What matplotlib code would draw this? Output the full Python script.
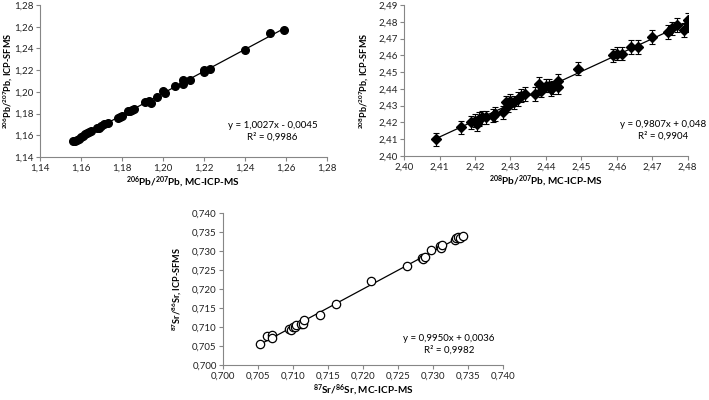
import numpy as np
import matplotlib
matplotlib.use("Agg")
import matplotlib.pyplot as plt
from matplotlib.ticker import FuncFormatter

plt.rcParams['font.family'] = ['Lato', 'DejaVu Sans']
plt.rcParams['mathtext.default'] = 'regular'

# ── data ──────────────────────────────────────────────────────────────────────

pb206_mc = [1.156, 1.157, 1.158, 1.159, 1.160, 1.161, 1.162, 1.163, 1.164, 1.165,
            1.168, 1.169, 1.170, 1.171, 1.173, 1.178, 1.179, 1.180, 1.183, 1.184,
            1.185, 1.186, 1.191, 1.193, 1.194, 1.197, 1.200, 1.201, 1.206, 1.210,
            1.210, 1.213, 1.220, 1.220, 1.223, 1.240, 1.252, 1.259]
pb206_sf = [1.155, 1.155, 1.156, 1.157, 1.158, 1.159, 1.161, 1.162, 1.163, 1.164,
            1.167, 1.167, 1.169, 1.170, 1.171, 1.176, 1.177, 1.178, 1.182, 1.182,
            1.183, 1.184, 1.191, 1.192, 1.190, 1.195, 1.201, 1.199, 1.205, 1.211,
            1.207, 1.211, 1.218, 1.220, 1.221, 1.239, 1.254, 1.257]

pb208_mc = [2.409, 2.416, 2.419, 2.420, 2.421, 2.4205, 2.422, 2.423, 2.425, 2.4255,
            2.428, 2.4288, 2.4293, 2.430, 2.431, 2.432, 2.433, 2.434, 2.437, 2.438,
            2.4385, 2.440, 2.441, 2.4413, 2.442, 2.4435, 2.4433, 2.449, 2.459, 2.460,
            2.4615, 2.464, 2.466, 2.470, 2.4745, 2.4755, 2.477, 2.479, 2.480, 2.4803,
            2.4805]
pb208_sf = [2.410, 2.417, 2.420, 2.421, 2.422, 2.419, 2.423, 2.423, 2.424, 2.425,
            2.426, 2.432, 2.430, 2.433, 2.432, 2.434, 2.436, 2.437, 2.437, 2.443,
            2.439, 2.442, 2.442, 2.440, 2.441, 2.445, 2.441, 2.452, 2.460, 2.461,
            2.461, 2.465, 2.465, 2.471, 2.474, 2.476, 2.478, 2.475, 2.481, 2.479,
            2.478]
pb208_err = 0.004

sr_mc = [0.7053, 0.7063, 0.7070, 0.7070, 0.7094, 0.7097, 0.7100, 0.7103, 0.7104, 0.7112,
         0.7114, 0.7116, 0.7138, 0.7161, 0.7212, 0.7263, 0.7284, 0.7285, 0.7289, 0.7297,
         0.7310, 0.7311, 0.7313, 0.7331, 0.7333, 0.7335, 0.7338, 0.7343]
sr_sf = [0.7055, 0.7075, 0.7080, 0.7070, 0.7094, 0.7093, 0.7100, 0.7100, 0.7106, 0.7108,
         0.7109, 0.7118, 0.7131, 0.7160, 0.7221, 0.7260, 0.7281, 0.7278, 0.7284, 0.7303,
         0.7312, 0.7307, 0.7315, 0.7330, 0.7335, 0.7336, 0.7334, 0.7340]

eq_206 = "y = 1,0027x - 0,0045\nR² = 0,9986"
eq_208 = "y = 0,9807x + 0,048\nR² = 0,9904"
eq_sr = "y = 0,9950x + 0,0036\nR² = 0,9982"

# ── helpers ───────────────────────────────────────────────────────────────────

def comma_fmt(decimals):
    return FuncFormatter(lambda v, pos: f"{v:.{decimals}f}".replace(".", ","))

def style_axes(ax, lim, step, decimals, xlabel, ylabel, ylab_x):
    ticks = np.arange(lim[0], lim[1] + step / 2, step)
    ax.set_xlim(lim)
    ax.set_ylim(lim)
    ax.set_xticks(ticks)
    ax.set_yticks(ticks)
    ax.xaxis.set_major_formatter(comma_fmt(decimals))
    ax.yaxis.set_major_formatter(comma_fmt(decimals))
    for s in ["top", "right"]:
        ax.spines[s].set_visible(False)
    for s in ["left", "bottom"]:
        ax.spines[s].set_color("#868686")
        ax.spines[s].set_linewidth(0.8)
    ax.tick_params(direction="out", length=3, width=0.8, color="#868686",
                   labelsize=7, pad=1.5, labelcolor="#222222")
    ax.set_xlabel(xlabel, fontsize=7.2, fontweight="bold", labelpad=2)
    ax.set_ylabel(ylabel, fontsize=6.6, fontweight="bold")
    # label sits at a fixed spot, left of the tick labels, like the original
    ax.yaxis.set_label_coords(ylab_x, 0.5)

def trend(ax, x, y):
    k, b = np.polyfit(x, y, 1)
    xs = np.array([min(x), max(x)])
    ax.plot(xs, k * xs + b, color="black", lw=0.9, zorder=1)

fig = plt.figure(figsize=(7.09, 4.0), dpi=100)

# ── 206Pb/207Pb ───────────────────────────────────────────────────────────────
ax1 = fig.add_axes([0.0564, 0.6075, 0.4048, 0.38])
trend(ax1, pb206_mc, pb206_sf)
ax1.plot(pb206_mc, pb206_sf, "o", color="black", ms=5.5, zorder=2)
style_axes(ax1, (1.14, 1.28), 0.02, 2,
           r"$^{206}$Pb/$^{207}$Pb, MC-ICP-MS", r"$^{206}$Pb/$^{207}$Pb, ICP-SFMS",
           -0.088)
ax1.text(0.81, 0.17, eq_206, transform=ax1.transAxes, ha="center", va="center",
         fontsize=7, linespacing=1.35)

# ── 208Pb/207Pb ───────────────────────────────────────────────────────────────
ax2 = fig.add_axes([0.570, 0.61, 0.400, 0.3775])
trend(ax2, pb208_mc, pb208_sf)
ax2.errorbar(pb208_mc, pb208_sf, yerr=pb208_err, fmt="D", color="black", ms=5,
             ecolor="black", elinewidth=0.8, capsize=2.5, capthick=0.8, zorder=2)
style_axes(ax2, (2.40, 2.49), 0.01, 2,
           r"$^{208}$Pb/$^{207}$Pb, MC-ICP-MS", r"$^{208}$Pb/$^{207}$Pb, ICP-SFMS",
           -0.118)
ax2.set_xlim(2.40, 2.48)
ax2.set_xticks(np.arange(2.40, 2.485, 0.01))
ax2.text(0.915, 0.17, eq_208, transform=ax2.transAxes, ha="center", va="center",
         fontsize=7, linespacing=1.35)

# ── 87Sr/86Sr ─────────────────────────────────────────────────────────────────
ax3 = fig.add_axes([0.3145, 0.0875, 0.395, 0.38])
trend(ax3, sr_mc, sr_sf)
ax3.plot(sr_mc, sr_sf, "o", mfc="white", mec="black", mew=0.9, ms=6, zorder=2)
style_axes(ax3, (0.700, 0.740), 0.005, 3,
           r"$^{87}$Sr/$^{86}$Sr, MC-ICP-MS", r"$^{87}$Sr/$^{86}$Sr, ICP-SFMS",
           -0.139)
ax3.text(0.807, 0.135, eq_sr, transform=ax3.transAxes, ha="center", va="center",
         fontsize=7, linespacing=1.35)

fig.savefig("out.png", dpi=100)
